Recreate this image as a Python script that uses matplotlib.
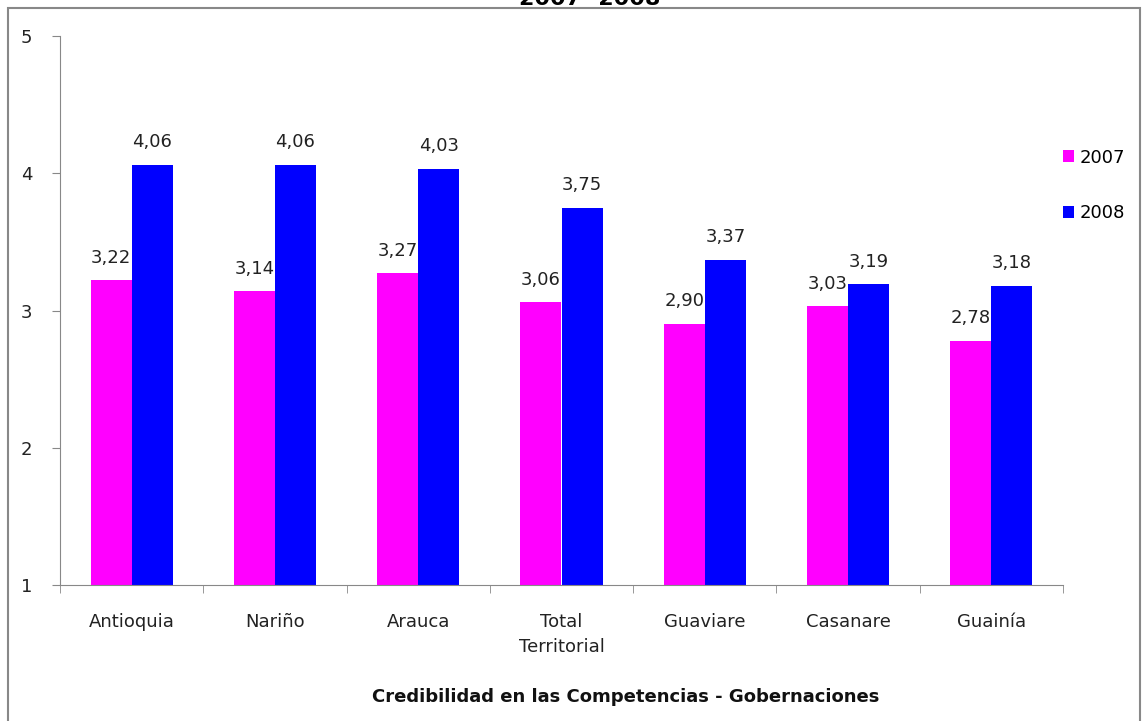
import numpy as np
import matplotlib.pyplot as plt
from matplotlib.patches import Rectangle

plt.rcParams['font.family'] = ['DejaVu Sans']

categories = ["Antioquia", "Nariño", "Arauca", "Total\nTerritorial",
              "Guaviare", "Casanare", "Guainía"]
values_2007 = [3.22, 3.14, 3.27, 3.06, 2.90, 3.03, 2.78]
values_2008 = [4.06, 4.06, 4.03, 3.75, 3.37, 3.19, 3.18]
series_labels = ["2007", "2008"]
title = "2007- 2008"
x_title = "Credibilidad en las Competencias - Gobernaciones"


def fmt(v):
    return f"{v:.2f}".replace(".", ",")


fig = plt.figure(figsize=(11.44, 7.21), dpi=100)
fig.patch.set_facecolor("white")

# outer frame
fig.add_artist(Rectangle((8 / 1144, -0.01), 1132 / 1144, 1 - 8 / 721 + 0.01,
                         transform=fig.transFigure, fill=False,
                         edgecolor="#888888", linewidth=1.5))
fig.text(590 / 1144, 1 - 9 / 721, title, ha="center", va="bottom",
         fontsize=16, fontweight="bold")

ax = fig.add_axes([60 / 1144, 1 - 585 / 721, 1003 / 1144, 549 / 721])
x = np.arange(len(categories))
w = 0.287
bars1 = ax.bar(x - w / 2, np.array(values_2007) - 1, w, bottom=1,
               color="#FF00FF", label=series_labels[0])
bars2 = ax.bar(x + w / 2, np.array(values_2008) - 1, w, bottom=1,
               color="#0000FF", label=series_labels[1])

for bars, vals in ((bars1, values_2007), (bars2, values_2008)):
    for b, v in zip(bars, vals):
        ax.text(b.get_x() + b.get_width() / 2, v + 0.1, fmt(v),
                ha="center", va="bottom", fontsize=13, color="#222222")

ax.set_xlim(-0.5, len(categories) - 0.5)
ax.set_ylim(1, 5)
ax.set_yticks([1, 2, 3, 4, 5])
ax.set_xticks(x)
ax.set_xticklabels(categories, fontsize=13, color="#222222", linespacing=1.5)
ax.set_xticks(np.arange(len(categories) + 1) - 0.5, minor=True)
ax.tick_params(axis="x", which="major", length=0, pad=20)
ax.tick_params(axis="x", which="minor", length=6, color="#888888")
ax.tick_params(axis="y", length=6, color="#888888", labelsize=13,
               labelcolor="#222222", pad=14)
for s in ("top", "right"):
    ax.spines[s].set_visible(False)
for s in ("left", "bottom"):
    ax.spines[s].set_color("#888888")

fig.text(626 / 1144, 1 - 697 / 721, x_title, ha="center", va="center",
         fontsize=13, fontweight="bold", color="#111111")

ax.legend(loc="upper left", bbox_to_anchor=(1.0, 0.795), frameon=False,
          fontsize=13, handlelength=0.6, handleheight=0.6,
          handletextpad=0.3, labelspacing=2.1, borderaxespad=0,
          borderpad=0)

fig.savefig("out.png", dpi=100)
